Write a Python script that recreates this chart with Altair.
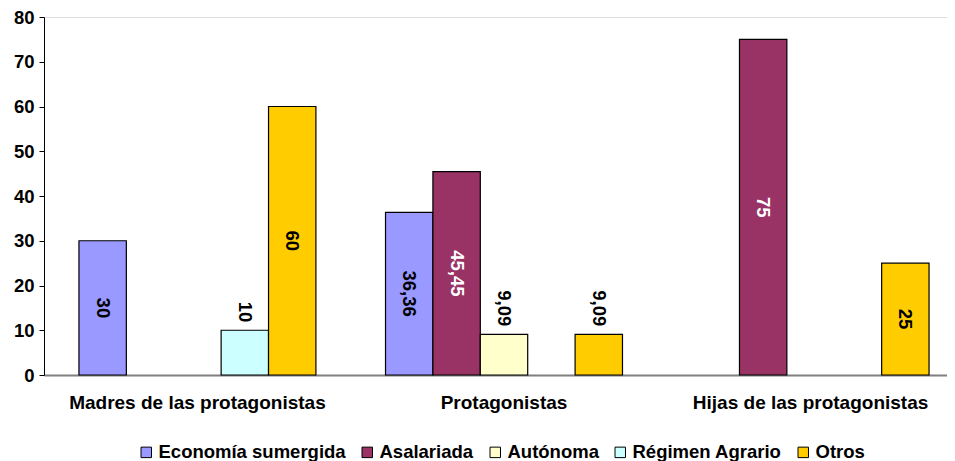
import altair as alt
import pandas as pd

grupos = ["Madres de las protagonistas", "Protagonistas", "Hijas de las protagonistas"]
series = ["Economía sumergida", "Asalariada", "Autónoma", "Régimen Agrario", "Otros"]
colores = ["#9999FF", "#993366", "#FFFFCC", "#CCFFFF", "#FFCC00"]

economia = [30, 36.36, None]
asalariada = [None, 45.45, 75]
autonoma = [None, 9.09, None]
regimen = [10, None, None]
otros = [60, 9.09, 25]

rows = []
for s, vals in zip(series, [economia, asalariada, autonoma, regimen, otros]):
    for g, v in zip(grupos, vals):
        if v is not None:
            rows.append({"grupo": g, "serie": s, "valor": v,
                         "etiqueta": f"{v:g}".replace(".", ",")})
df = pd.DataFrame(rows)

FONT = "Liberation Sans"

x = alt.X("grupo:N", sort=grupos,
          scale=alt.Scale(range=[0, 920], paddingInner=0.227, paddingOuter=0.114),
          axis=alt.Axis(title=None, labelAngle=0, ticks=False, domainColor="#808080",
                        domainWidth=2, labelFontSize=19, labelFontWeight="bold",
                        labelColor="black", labelPadding=18, labelFont=FONT,
                        labelLimit=0))
xo = alt.XOffset("serie:N", sort=series,
                 scale=alt.Scale(domain=series, paddingInner=0, paddingOuter=0))
yscale = alt.Scale(domain=[0, 80])

base = alt.Chart(df)

bars = base.mark_bar(stroke="black", strokeWidth=1.2).encode(
    x=x, xOffset=xo,
    y=alt.Y("valor:Q", scale=yscale,
            axis=alt.Axis(values=list(range(0, 81, 10)), title=None, grid=False,
                          domainColor="black", tickColor="black", tickSize=5,
                          labelFontSize=18.5, labelFontWeight="bold", labelColor="black",
                          labelPadding=5, labelFont=FONT)),
    color=alt.Color("serie:N", scale=alt.Scale(domain=series, range=colores),
                    legend=alt.Legend(title=None, orient="none", direction="horizontal",
                                      legendX=93, legendY=426, symbolType="square",
                                      symbolSize=110, symbolStrokeColor="black",
                                      symbolStrokeWidth=1, labelFontSize=18.5,
                                      labelFontWeight="bold", labelColor="black",
                                      labelFont=FONT, columnPadding=12, labelOffset=3,
                                      labelLimit=0)),
)

txt_color = alt.condition(alt.datum.serie == "Asalariada", alt.value("white"), alt.value("black"))

txt_in = base.transform_filter("datum.valor >= 20").transform_calculate(
    mitad="datum.valor / 2"
).mark_text(angle=90, align="center", baseline="middle", fontSize=18.5,
            fontWeight="bold", font=FONT).encode(
    x=x, xOffset=xo, y=alt.Y("mitad:Q", scale=yscale), text="etiqueta:N", color=txt_color)

txt_out = base.transform_filter("datum.valor < 20").mark_text(
    angle=90, align="right", baseline="middle", dx=-8, fontSize=18.5,
    fontWeight="bold", font=FONT).encode(
    x=x, xOffset=xo, y=alt.Y("valor:Q", scale=yscale), text="etiqueta:N", color=txt_color)

chart = alt.layer(bars, txt_in, txt_out).properties(
    width=903, height=358,
    autosize=alt.AutoSizeParams(type="none"),
    padding={"left": 36, "top": 9, "right": 0, "bottom": 86},
).configure_view(stroke=None).configure(font=FONT)

chart.save("out.html", embed_options={"renderer": "svg", "actions": False})
